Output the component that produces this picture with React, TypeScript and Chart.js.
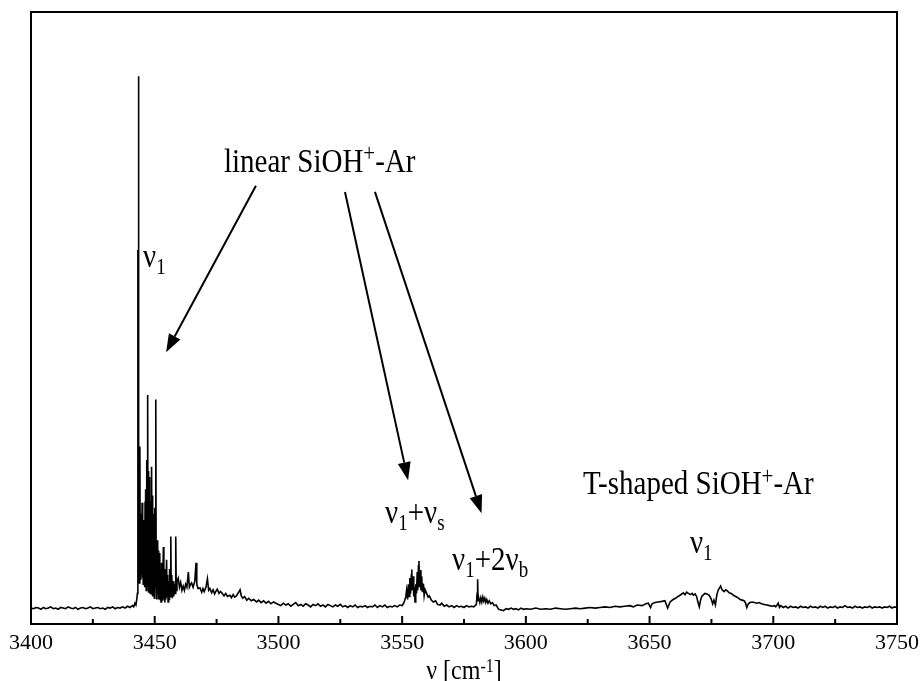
import React, { useEffect, useRef } from "react";
import { Chart, registerables } from "chart.js";

Chart.register(...registerables);

type Pt = [number, number];

// ---------- spectrum data (wavenumber cm^-1, intensity a.u.) ----------
const leftBaseline: Pt[] = [
  [3400, 2.6], [3401, 2.5], [3402, 2.7], [3403, 2.6], [3404, 2.4], [3405, 2.7], [3406, 2.5], [3407, 2.6],
  [3408, 2.8], [3409, 2.5], [3410, 2.6], [3411, 2.4], [3412, 2.7], [3413, 2.6], [3414, 2.5], [3415, 2.8],
  [3416, 2.6], [3417, 2.5], [3418, 2.7], [3419, 2.4], [3420, 2.6], [3421, 2.7], [3422, 2.5], [3423, 2.6],
  [3424, 2.8], [3425, 2.5], [3426, 2.6], [3427, 2.7], [3428, 2.5], [3429, 2.6], [3430, 2.4], [3431, 2.7],
  [3432, 2.6], [3433, 2.8], [3434, 2.5], [3435, 2.7], [3436, 2.6], [3437, 2.8], [3438, 2.6], [3439, 2.9],
  [3440, 2.7], [3441, 3.0], [3441.5, 2.8], [3442, 3.4], [3442.4, 3.1], [3442.8, 4.2],
];

const linearV1Band: Pt[] = [
  [3443.0, 5.0], [3443.2, 61.1], [3443.3, 20], [3443.4, 89.5], [3443.6, 30], [3443.8, 6.7],
  [3444.0, 29.0], [3444.15, 9], [3444.3, 18], [3444.45, 7.2], [3444.6, 15], [3444.75, 8],
  [3444.9, 19.8], [3445.05, 7.5], [3445.2, 14], [3445.35, 6.5], [3445.5, 17], [3445.65, 8],
  [3445.8, 12], [3445.95, 6], [3446.1, 20], [3446.25, 7], [3446.4, 22], [3446.55, 5.5],
  [3446.7, 26.8], [3446.85, 6], [3447.0, 24], [3447.1, 10], [3447.2, 37.4], [3447.3, 8],
  [3447.45, 25], [3447.6, 5.1], [3447.75, 22], [3447.9, 6], [3448.05, 24], [3448.2, 5],
  [3448.35, 20], [3448.5, 7], [3448.65, 23], [3448.8, 25.7], [3448.95, 5], [3449.1, 21],
  [3449.25, 4.5], [3449.4, 18], [3449.55, 6], [3449.7, 16], [3449.85, 4.2], [3450.0, 19],
  [3450.15, 6], [3450.35, 14], [3450.45, 8], [3450.5, 36.7], [3450.6, 7], [3450.75, 12],
  [3450.9, 4], [3451.05, 13.7], [3451.2, 5], [3451.35, 11], [3451.5, 4], [3451.65, 12],
  [3451.8, 4.5], [3451.95, 10], [3452.1, 11.6], [3452.25, 4], [3452.4, 9], [3452.55, 3.6],
  [3452.7, 10], [3452.85, 4], [3453.0, 9.5], [3453.2, 3.8], [3453.5, 12.6], [3453.7, 4],
  [3453.9, 8.5], [3454.1, 3.5], [3454.3, 9], [3454.5, 4], [3454.8, 10.5], [3455.0, 4.5],
  [3455.2, 8], [3455.4, 3.6], [3455.6, 7], [3455.8, 4], [3456.0, 9], [3456.2, 4.5],
  [3456.5, 14.3], [3456.7, 5], [3456.9, 8], [3457.1, 4.2], [3457.4, 7], [3457.7, 4.5],
  [3458.0, 6.5], [3458.2, 5], [3458.5, 14.3], [3458.7, 5.5],
];

const linearTail: Pt[] = [
  [3459.0, 7], [3459.5, 7.5], [3460.0, 6], [3460.5, 6.8], [3461, 5.5], [3461.5, 6.2], [3462, 5.5],
  [3462.5, 6.5], [3463, 6], [3463.6, 8.5], [3464, 6], [3464.5, 6.5], [3464.9, 6.7], [3465.5, 6],
  [3466.2, 7], [3466.7, 10.0], [3467, 6.5], [3467.5, 5.8], [3468.3, 5.9], [3469, 5.2], [3469.5, 5.8],
  [3470, 5.3], [3470.7, 6], [3471.3, 7.4], [3471.8, 5.5], [3472.3, 5.8], [3473.0, 5.1], [3473.6, 5.6],
  [3474.2, 4.9], [3474.8, 5.4], [3475.3, 5.7], [3476, 5.0], [3476.6, 5.3], [3477.1, 5.1], [3478, 4.6],
  [3478.7, 5.0], [3479.4, 4.5], [3480.4, 4.7], [3481, 4.3], [3481.7, 4.8], [3482.3, 4.4], [3483, 4.6],
  [3483.8, 5.1], [3484.5, 5.6], [3485, 4.6], [3485.6, 4.2], [3486.3, 4.5], [3487.2, 3.9], [3488, 4.2],
  [3489, 3.8], [3490, 4.0], [3491.2, 3.6], [3492, 3.9], [3493, 3.5], [3494, 3.8], [3495, 3.4],
  [3496, 3.7], [3497, 3.3], [3498, 3.6], [3499, 3.4], [3500, 3.2],
];

const midBaseline: Pt[] = [
  [3501, 3.0], [3502, 3.4], [3503, 3.1], [3504, 3.3], [3505, 2.9], [3506, 3.2], [3507, 3.5], [3508, 3.0],
  [3509, 3.2], [3510, 2.9], [3511, 3.3], [3512, 3.1], [3513, 2.8], [3514, 3.2], [3515, 3.0], [3516, 3.3],
  [3517, 2.9], [3518, 3.1], [3519, 2.8], [3520, 3.2], [3521, 3.0], [3522, 2.8], [3523, 3.1], [3524, 2.9],
  [3525, 3.2], [3526, 2.8], [3527, 3.0], [3528, 2.7], [3529, 3.0], [3530, 2.8], [3531, 3.1], [3532, 2.7],
  [3533, 2.9], [3534, 2.8], [3535, 3.0], [3536, 2.7], [3537, 2.9], [3538, 2.8], [3539, 3.1], [3540, 2.7],
  [3541, 3.0], [3542, 2.8], [3543, 3.1], [3544, 2.7], [3545, 2.9], [3546, 2.8], [3547, 3.0], [3548, 2.8],
  [3549, 3.1], [3550, 3.0], [3550.5, 3.3], [3551, 3.8], [3551.5, 4.5],
];

const combinationBand: Pt[] = [
  [3551.8, 5.5], [3552.2, 4.0], [3552.5, 6.5], [3552.8, 4.5], [3553.1, 7.5], [3553.4, 5.0],
  [3553.7, 8.0], [3553.9, 8.9], [3554.1, 5.5], [3554.4, 7.8], [3554.7, 4.5], [3555.0, 6.0],
  [3555.2, 3.6], [3555.5, 6.5], [3555.8, 5.0], [3556.1, 8.5], [3556.3, 5.5], [3556.6, 9.5],
  [3556.8, 10.3], [3557.0, 6.0], [3557.3, 8.8], [3557.6, 5.5], [3557.9, 7.8], [3558.2, 5.2],
  [3558.6, 6.6], [3558.9, 4.6], [3559.3, 5.6], [3559.9, 5.0], [3560.5, 4.4], [3561, 4.6],
  [3561.8, 3.9], [3562.6, 3.6], [3563.5, 3.8], [3564.3, 3.2], [3565.3, 3.1], [3566, 3.4],
];

const bendOvertoneBand: Pt[] = [
  [3567, 2.9], [3568, 3.1], [3569, 2.8], [3570, 3.0], [3571, 2.7], [3572, 3.0], [3573, 2.8],
  [3574, 2.9], [3575, 2.7], [3576, 3.0], [3577, 2.8], [3578, 2.9], [3579, 2.8], [3580, 3.2],
  [3580.3, 5.0], [3580.5, 7.3], [3580.7, 3.8], [3581, 4.2], [3581.4, 3.5], [3581.8, 4.3],
  [3582.2, 3.6], [3582.6, 4.4], [3583, 3.7], [3583.4, 4.2], [3583.8, 3.5], [3584.2, 4.0],
  [3584.7, 3.4], [3585.2, 3.8], [3585.8, 3.3], [3586.5, 3.5], [3587.2, 3.0], [3588, 3.1],
  [3589, 2.4], [3590, 2.3], [3591, 2.2],
];

const flatRegion: Pt[] = [
  [3592, 2.5], [3593, 2.4], [3594, 2.6], [3595, 2.4], [3596, 2.5], [3597, 2.3], [3598, 2.6], [3599, 2.4],
  [3600, 2.5], [3602, 2.4], [3604, 2.6], [3606, 2.4], [3608, 2.5], [3610, 2.4], [3612, 2.6], [3614, 2.5],
  [3616, 2.4], [3618, 2.5], [3620, 2.6], [3622, 2.5], [3624, 2.6], [3626, 2.7], [3628, 2.6], [3630, 2.7],
  [3632, 2.8], [3634, 2.7], [3636, 2.9], [3638, 2.8], [3640, 2.9], [3642, 3.0],
];

const tShapedBand: Pt[] = [
  [3643.4, 2.8], [3645, 3.1], [3647, 3.0], [3648.5, 3.3], [3649.5, 3.4], [3650.4, 2.7], [3651, 3.3],
  [3652.2, 3.5], [3653.5, 3.6], [3655, 3.7], [3656.2, 3.8], [3657.3, 2.6], [3658.3, 3.6], [3659.5, 4.0],
  [3660.5, 4.2], [3661.5, 4.5], [3662.3, 4.7], [3663, 4.9], [3663.6, 5.1], [3664.3, 4.8], [3665, 5.2],
  [3665.7, 5.0], [3666.5, 4.8], [3667.2, 5.0], [3667.7, 4.7], [3668.4, 4.9], [3669.0, 4.5], [3669.6, 3.5],
  [3670.1, 2.8], [3670.6, 3.9], [3671.1, 4.5], [3671.8, 4.8], [3672.4, 5.0], [3673.2, 4.9], [3674.1, 4.7],
  [3674.8, 4.2], [3675.5, 3.3], [3676.0, 3.9], [3676.6, 3.1], [3677.2, 4.8], [3677.8, 5.6], [3678.3, 5.9],
  [3678.7, 6.2], [3679.3, 5.6], [3680.1, 5.3], [3680.8, 5.6], [3681.4, 5.4], [3682.2, 5.1], [3683.0, 5.0],
  [3683.9, 4.7], [3684.8, 4.5], [3685.7, 4.3], [3686.6, 4.0], [3687.4, 3.9], [3688.2, 3.8], [3688.8, 3.4],
  [3689.3, 2.7], [3689.9, 3.3], [3690.6, 3.5], [3691.5, 3.6], [3692.4, 3.5], [3693.3, 3.4], [3694.2, 3.5],
  [3695.2, 3.3], [3696.3, 3.2], [3697.4, 3.1], [3698.5, 3.0], [3699.5, 2.9], [3700.5, 3.0],
];

const rightBaseline: Pt[] = [
  [3701, 2.8], [3702, 3.4], [3702.5, 2.7], [3703, 3.0], [3704, 2.7], [3705, 2.9], [3706, 2.6], [3707, 2.9],
  [3708, 2.7], [3709, 2.8], [3710, 2.6], [3711, 2.9], [3712, 2.7], [3713, 2.8], [3714, 2.6], [3715, 2.9],
  [3716, 2.7], [3717, 2.8], [3718, 2.6], [3719, 2.9], [3720, 2.7], [3721, 2.9], [3722, 2.6], [3723, 2.8],
  [3724, 2.7], [3725, 2.9], [3726, 2.6], [3727, 2.8], [3728, 2.7], [3729, 3.0], [3730, 2.7], [3731, 2.8],
  [3732, 2.6], [3733, 2.9], [3734, 2.7], [3735, 2.8], [3736, 2.6], [3737, 2.8], [3738, 2.7], [3739, 2.9],
  [3740, 2.6], [3741, 2.8], [3742, 2.7], [3743, 2.8], [3744, 2.6], [3745, 2.8], [3746, 2.7], [3747, 2.9],
  [3748, 2.6], [3749, 2.8], [3750, 2.7],
];

// ---------- axis ----------
const xMin = 3400;
const xMax = 3750;
const majorTicks = [3400, 3450, 3500, 3550, 3600, 3650, 3700, 3750];
const minorTicks = [3425, 3475, 3525, 3575, 3625, 3675, 3725];

// ---------- annotations (data coordinates) ----------
type Run = { t: string; k: "n" | "sub" | "sup" };
const annotations: { x: number; y: number; runs: Run[] }[] = [
  { x: 3478.0, y: 73.9, runs: [{ t: "linear SiOH", k: "n" }, { t: "+", k: "sup" }, { t: "-Ar", k: "n" }] },
  { x: 3445.3, y: 58.3, runs: [{ t: "ν", k: "n" }, { t: "1", k: "sub" }] },
  { x: 3543.1, y: 16.5, runs: [{ t: "ν", k: "n" }, { t: "1", k: "sub" }, { t: "+ν", k: "n" }, { t: "s", k: "sub" }] },
  { x: 3570.2, y: 8.8, runs: [{ t: "ν", k: "n" }, { t: "1", k: "sub" }, { t: "+2ν", k: "n" }, { t: "b", k: "sub" }] },
  { x: 3623.1, y: 21.2, runs: [{ t: "T-shaped SiOH", k: "n" }, { t: "+", k: "sup" }, { t: "-Ar", k: "n" }] },
  { x: 3666.3, y: 11.6, runs: [{ t: "ν", k: "n" }, { t: "1", k: "sub" }] },
];

const arrows: { from: Pt; to: Pt }[] = [
  { from: [3490.9, 71.6], to: [3454.6, 44.4] },
  { from: [3526.9, 70.6], to: [3552.4, 23.5] },
  { from: [3539.0, 70.6], to: [3582.1, 18.1] },
];

const axisTitle: Run[] = [{ t: "ν [cm", k: "n" }, { t: "-1", k: "sup" }, { t: "]", k: "n" }];

const SERIF = '"Liberation Serif", "Times New Roman", Times, serif';
const STRETCH = 1.17;

function drawRuns(ctx: CanvasRenderingContext2D, runs: Run[], x: number, y: number, size: number, align: "left" | "center", supShift: number, supScale: number) {
  const parts = runs.map((r) => {
    const s = r.k === "n" ? size : Math.round(size * (r.k === "sup" ? supScale : 0.66));
    ctx.font = `${s}px ${SERIF}`;
    return { ...r, s, w: ctx.measureText(r.t).width };
  });
  const total = parts.reduce((a, p) => a + p.w, 0);
  let cx = align === "center" ? x - total / 2 : x;
  for (const p of parts) {
    const dy = p.k === "sub" ? size * 0.23 : p.k === "sup" ? -size * supShift : 0;
    ctx.save();
    ctx.translate(cx, y + dy);
    ctx.scale(1, STRETCH);
    ctx.font = `${p.s}px ${SERIF}`;
    ctx.textAlign = "left";
    ctx.textBaseline = "alphabetic";
    ctx.fillStyle = "#000";
    ctx.fillText(p.t, 0, 0);
    ctx.restore();
    cx += p.w;
  }
}

const overlayPlugin = {
  id: "overlay",
  afterDraw(chart: any) {
    const { ctx, chartArea: a, scales } = chart;
    const xs = scales.x;
    const ys = scales.y;
    ctx.save();
    ctx.strokeStyle = "#000";
    ctx.fillStyle = "#000";
    // frame
    ctx.lineWidth = 2;
    ctx.strokeRect(a.left, a.top, a.right - a.left, a.bottom - a.top);
    // inward ticks
    const tick = (v: number, len: number) => {
      const px = xs.getPixelForValue(v);
      ctx.beginPath();
      ctx.moveTo(px, a.bottom);
      ctx.lineTo(px, a.bottom - len);
      ctx.stroke();
    };
    majorTicks.forEach((v) => tick(v, 8));
    minorTicks.forEach((v) => tick(v, 5));
    // arrows
    ctx.lineWidth = 2;
    for (const ar of arrows) {
      const x1 = xs.getPixelForValue(ar.from[0]);
      const y1 = ys.getPixelForValue(ar.from[1]);
      const x2 = xs.getPixelForValue(ar.to[0]);
      const y2 = ys.getPixelForValue(ar.to[1]);
      const ang = Math.atan2(y2 - y1, x2 - x1);
      const hl = 18;
      const hw = 6.5;
      const bx = x2 - hl * Math.cos(ang);
      const by = y2 - hl * Math.sin(ang);
      ctx.beginPath();
      ctx.moveTo(x1, y1);
      ctx.lineTo(bx, by);
      ctx.stroke();
      ctx.beginPath();
      ctx.moveTo(x2, y2);
      ctx.lineTo(bx + hw * Math.sin(ang), by - hw * Math.cos(ang));
      ctx.lineTo(bx - hw * Math.sin(ang), by + hw * Math.cos(ang));
      ctx.closePath();
      ctx.fill();
    }
    // annotations
    for (const an of annotations) {
      drawRuns(ctx, an.runs, xs.getPixelForValue(an.x), ys.getPixelForValue(an.y), 29, "left", 0.36, 0.72);
    }
    // axis title
    drawRuns(ctx, axisTitle, (a.left + a.right) / 2, 679, 24, "center", 0.3, 0.66);
    ctx.restore();
  },
};

const spectrum = [
  ...leftBaseline,
  ...linearV1Band,
  ...linearTail,
  ...midBaseline,
  ...combinationBand,
  ...bendOvertoneBand,
  ...flatRegion,
  ...tShapedBand,
  ...rightBaseline,
].map(([x, y]) => ({ x, y }));

export default function App() {
  const ref = useRef<HTMLCanvasElement | null>(null);
  useEffect(() => {
    if (!ref.current) return;
    const chart = new Chart(ref.current, {
      type: "line",
      data: {
        datasets: [
          {
            data: spectrum,
            borderColor: "#000",
            borderWidth: 1.6,
            pointRadius: 0,
            tension: 0,
            fill: false,
          },
        ],
      },
      options: {
        animation: false,
        responsive: true,
        maintainAspectRatio: false,
        layout: { padding: { left: 31, right: 24, top: 12, bottom: 0 } },
        plugins: { legend: { display: false }, tooltip: { enabled: false }, title: { display: false } },
        scales: {
          x: {
            type: "linear",
            min: xMin,
            max: xMax,
            grid: { display: false, drawTicks: false },
            border: { display: false },
            ticks: {
              stepSize: 50,
              autoSkip: false,
              maxRotation: 0,
              padding: 6,
              color: "#000",
              font: { family: SERIF, size: 22 },
              callback: (v: any) => String(v),
            },
            afterFit: (scale: any) => {
              scale.height = 57;
              scale.paddingLeft = 0;
              scale.paddingRight = 0;
            },
          },
          y: { display: false, min: 0, max: 100 },
        },
      },
      plugins: [overlayPlugin],
    } as any);
    return () => chart.destroy();
  }, []);
  return (
    <div style={{ position: "absolute", left: 0, top: 0, width: 921, height: 681, background: "#fff" }}>
      <canvas ref={ref} />
    </div>
  );
}
